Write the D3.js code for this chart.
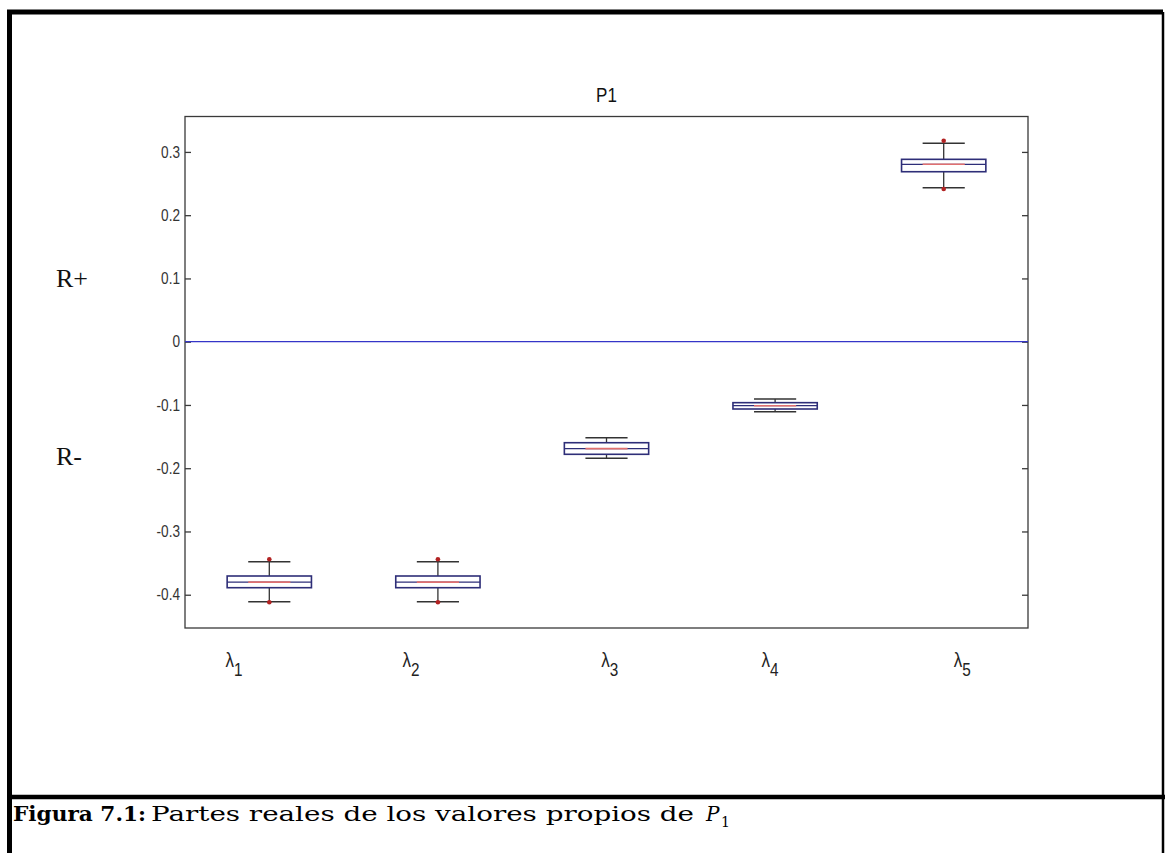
<!DOCTYPE html>
<html>
<head>
<meta charset="utf-8">
<script src="https://cdn.jsdelivr.net/npm/d3@7"></script>
<style>
  html, body { margin: 0; padding: 0; background: #fff; }
  svg { display: block; }
</style>
</head>
<body>
<svg id="chart" width="1165" height="853"></svg>
<script>
// ---- data ----
const categories = ["1", "2", "3", "4", "5"];            // subscripts of λ
const q1        = [-0.3889, -0.3889, -0.1780, -0.1064, 0.2687];
const medians   = [-0.3800, -0.3800, -0.1690, -0.1012, 0.2804];
const q3        = [-0.3704, -0.3704, -0.1597, -0.0964, 0.2883];
const whiskLo   = [-0.4110, -0.4110, -0.1843, -0.1107, 0.2434];
const whiskHi   = [-0.3478, -0.3478, -0.1518, -0.0906, 0.3136];
const outliers  = [[-0.4120, -0.3440], [-0.4120, -0.3440], [], [], [0.2415, 0.3177]];
const yTicks    = [-0.4, -0.3, -0.2, -0.1, 0, 0.1, 0.2, 0.3];
const yTickLabels = ["-0.4", "-0.3", "-0.2", "-0.1", "0", "0.1", "0.2", "0.3"];
const labelPos  = [0.79, 1.84, 3.02, 3.97, 5.11];      // λ label positions (x units)
const regionLabels = ["R+", "R-"];
const regionPos    = [0.1, -0.18];
const title = "P1";
const captionBold = "Figura 7.1:";
const captionText = "Partes reales de los valores propios de";
const captionSym = "P";
const captionSub = "1";

// ---- layout ----
const svg = d3.select("#chart");
const L = 185, R = 1028, T = 116.5, B = 628;
const x = d3.scaleLinear().domain([0.5, 5.5]).range([L, R]);
const y = d3.scaleLinear().domain([-0.4526, 0.356]).range([B, T]);
const boxW = 0.5, capW = 0.25;
const narrow = 0.85;

// outer figure frame
svg.append("path").attr("d", `M9.5,853 V12 H1163`).attr("fill", "none")
  .attr("stroke", "#000").attr("stroke-width", 5);
svg.append("line").attr("x1", 1163).attr("x2", 1163).attr("y1", 12).attr("y2", 853)
  .attr("stroke", "#000").attr("stroke-width", 2.5);
svg.append("line").attr("x1", 7).attr("x2", 1165).attr("y1", 797).attr("y2", 797)
  .attr("stroke", "#000").attr("stroke-width", 4.5);

// caption
const capFont = "'DejaVu Serif', serif";
svg.append("text").attr("x", 13).attr("y", 821).attr("font-family", capFont)
  .attr("font-size", 20).attr("font-weight", "bold").attr("textLength", 133)
  .attr("lengthAdjust", "spacingAndGlyphs").text(captionBold);
svg.append("text").attr("x", 151).attr("y", 821).attr("font-family", capFont)
  .attr("font-size", 20).attr("textLength", 543)
  .attr("lengthAdjust", "spacingAndGlyphs").text(captionText);
svg.append("text").attr("x", 706).attr("y", 821).attr("font-family", capFont)
  .attr("font-size", 20).attr("font-style", "italic").text(captionSym);
svg.append("text").attr("x", 721).attr("y", 827).attr("font-family", capFont)
  .attr("font-size", 14).text(captionSub);

// axes frame
const g = svg.append("g");
g.append("rect").attr("x", L).attr("y", T).attr("width", R - L).attr("height", B - T)
  .attr("fill", "none").attr("stroke", "#3a3a3a").attr("stroke-width", 1.3);

// y axes (left labels + inward ticks, right inward ticks)
const yAxisL = d3.axisLeft(y).tickValues(yTicks).tickSize(-6).tickPadding(5)
  .tickFormat((d, i) => yTickLabels[i]);
const gl = g.append("g").attr("transform", `translate(${L},0)`).call(yAxisL);
gl.select(".domain").remove();
gl.selectAll("line").attr("stroke", "#3a3a3a").attr("stroke-width", 1.3);
gl.selectAll("text").attr("font-family", "'Liberation Sans', Arial, sans-serif")
  .attr("font-size", 16).attr("fill", "#333")
  .attr("x", -5 / narrow).attr("transform", `scale(${narrow},1)`);
const yAxisR = d3.axisRight(y).tickValues(yTicks).tickSize(-6).tickFormat("");
const gr = g.append("g").attr("transform", `translate(${R},0)`).call(yAxisR);
gr.select(".domain").remove();
gr.selectAll("line").attr("stroke", "#3a3a3a").attr("stroke-width", 1.3);

// zero line
g.append("line").attr("x1", L).attr("x2", R).attr("y1", y(0)).attr("y2", y(0))
  .attr("stroke", "#3535c8").attr("stroke-width", 1.3);

// title
svg.append("text").attr("transform", `translate(${(L + R) / 2},102) scale(${narrow},1)`)
  .attr("text-anchor", "middle")
  .attr("font-family", "'Liberation Sans', Arial, sans-serif").attr("font-size", 20)
  .attr("fill", "#111").text(title);

// boxes
const boxes = g.selectAll("g.box").data(categories).join("g").attr("class", "box");
boxes.each(function (c, i) {
  const s = d3.select(this), cx = x(i + 1);
  // whiskers
  s.append("line").attr("x1", cx).attr("x2", cx).attr("y1", y(q3[i])).attr("y2", y(whiskHi[i]))
    .attr("stroke", "#333").attr("stroke-width", 1.3);
  s.append("line").attr("x1", cx).attr("x2", cx).attr("y1", y(q1[i])).attr("y2", y(whiskLo[i]))
    .attr("stroke", "#333").attr("stroke-width", 1.3);
  // caps
  [whiskHi[i], whiskLo[i]].forEach(v => {
    s.append("line").attr("x1", x(i + 1 - capW / 2)).attr("x2", x(i + 1 + capW / 2))
      .attr("y1", y(v)).attr("y2", y(v)).attr("stroke", "#333").attr("stroke-width", 1.6);
  });
  // box
  s.append("rect").attr("x", x(i + 1 - boxW / 2)).attr("y", y(q3[i]))
    .attr("width", x(i + 1 + boxW / 2) - x(i + 1 - boxW / 2)).attr("height", y(q1[i]) - y(q3[i]))
    .attr("fill", "#fff").attr("stroke", "#2e2e78").attr("stroke-width", 1.6);
  // median
  s.append("line").attr("x1", x(i + 1 - boxW / 2)).attr("x2", x(i + 1 + boxW / 2))
    .attr("y1", y(medians[i])).attr("y2", y(medians[i]))
    .attr("stroke", "#2e2e78").attr("stroke-width", 1.3);
  s.append("line").attr("x1", x(i + 1 - boxW / 4)).attr("x2", x(i + 1 + boxW / 4))
    .attr("y1", y(medians[i])).attr("y2", y(medians[i]))
    .attr("stroke", "#e07070").attr("stroke-width", 1.6);
  // outliers
  s.selectAll("circle").data(outliers[i]).join("circle")
    .attr("cx", cx).attr("cy", d => y(d)).attr("r", 2.3).attr("fill", "#b22222");
});

// λ labels
const lab = svg.selectAll("text.lam").data(categories).join("text").attr("class", "lam")
  .attr("transform", (d, i) => `translate(${x(labelPos[i])},667) scale(${narrow},1)`)
  .attr("font-family", "'Liberation Sans', 'DejaVu Sans', sans-serif")
  .attr("font-size", 20).attr("fill", "#222").attr("text-anchor", "middle");
lab.append("tspan").text("λ");
lab.append("tspan").attr("font-size", 18).attr("dy", 9).text(d => d);

// region labels
svg.selectAll("text.reg").data(regionLabels).join("text").attr("class", "reg")
  .attr("x", 56).attr("y", (d, i) => y(regionPos[i]) + 9)
  .attr("font-family", "'Liberation Serif', 'Times New Roman', serif")
  .attr("font-size", 26).attr("fill", "#111").text(d => d);
</script>
</body>
</html>
